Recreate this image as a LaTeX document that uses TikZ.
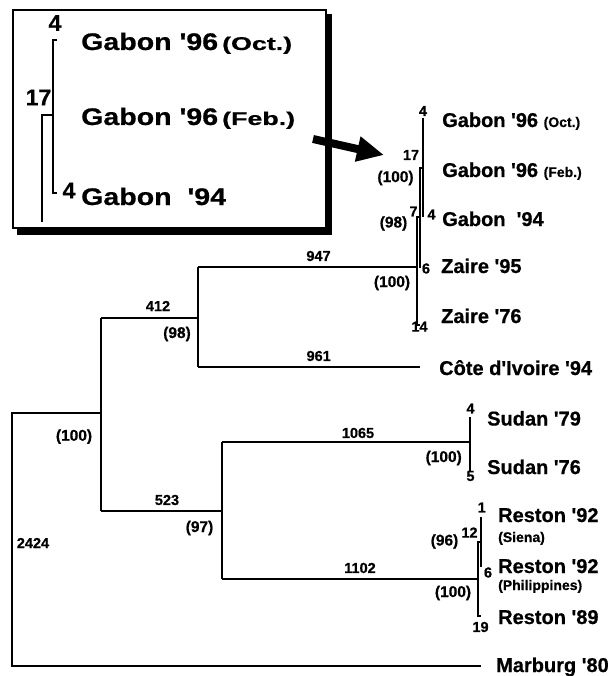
\documentclass[tikz,border=0pt]{standalone}
\usepackage{fontspec}
\setmainfont{Liberation Sans}[BoldFeatures={FakeBold=0.6}]
\usepackage{graphicx}
\usetikzlibrary{arrows.meta}
\newcommand\ap{\textquotesingle}
\newcommand\tlab{\fontsize{20}{22}\selectfont\bfseries}
\newcommand\tsub{\fontsize{14}{16}\selectfont\bfseries}
\newcommand\tnum{\fontsize{14.5}{16}\selectfont\bfseries}
\newcommand\tboot{\fontsize{15.5}{17}\selectfont\bfseries}
\newcommand\tinum{\fontsize{23}{25}\selectfont\bfseries}
\newcommand\ibig[1]{{\fontsize{24}{26}\selectfont\bfseries\scalebox{1.19}[1]{#1}}}
\newcommand\ismall[1]{{\fontsize{18.5}{20}\selectfont\bfseries\scalebox{1.45}[1]{#1}}}
\tikzset{
  lbl/.style={anchor=base west, inner sep=0pt, font=\tlab},
  sublbl/.style={anchor=base west, inner sep=0pt, font=\tsub},
  ilbl/.style={anchor=base west, inner sep=0pt},
  num/.style={inner sep=0pt, font=\tnum},
  boot/.style={inner sep=0pt, font=\tboot},
  inum/.style={inner sep=0pt, font=\tinum},
  br/.style={line width=2pt},
  fine/.style={line width=1.2pt},
  mid/.style={line width=1.6pt}
}
\begin{document}
\begin{tikzpicture}[x=1pt,y=-1pt]
\useasboundingbox (0,0) rectangle (613,676);
% ---------- inset box ----------
\draw[line width=1.5pt] (13,10) rectangle (326,228);
\fill (326,14) rectangle (332,235);
\fill (17,228) rectangle (332,235);
% inset tree
\coordinate (ia) at (57,40);
\coordinate (ib) at (53,40);
\coordinate (ic) at (53,193);
\coordinate (id) at (57,193);
\coordinate (ie) at (53,115);
\coordinate (if) at (41.7,115);
\coordinate (ig) at (41.7,222);
\draw[br] (ia) -- (ib) -- (ic) -- (id);
\draw[br] (ie) -- (if) -- (ig);
\node[inum] (i4a) at (55,23) {4};
\node[inum] (i17) at (38.5,97.5) {17};
\node[inum] (i4b) at (69,190.5) {4};
\node[ilbl] (it1) at (81,50) {\ibig{Gabon \ap96}\hspace{4pt}\ismall{(Oct.)}};
\node[ilbl] (it2) at (81,125) {\ibig{Gabon \ap96}\hspace{4pt}\ismall{(Feb.)}};
\node[ilbl] (it3) at (81,205) {\ibig{Gabon\ \ \ap94}};
% ---------- arrow ----------
\coordinate (arA) at (313,139);
\coordinate (arB) at (384,155);
\draw[line width=8pt, -{Triangle[length=27pt,width=24pt]}] (arA) -- (arB);
% ---------- main tree ----------
\coordinate (r) at (12,413);
\coordinate (rb) at (12,666);
\coordinate (mtip) at (481,666);
\coordinate (a) at (101,413);
\coordinate (atop) at (101,318);
\coordinate (abot) at (101,511);
\coordinate (b) at (198,318);
\coordinate (btop) at (198,267);
\coordinate (bbot) at (198,367);
\coordinate (zA) at (417,267);
\coordinate (cote) at (420,367);
\coordinate (c) at (222,511);
\coordinate (ctop) at (222,442);
\coordinate (cbot) at (222,579);
\coordinate (sud) at (470,442);
\coordinate (s79) at (470,417);
\coordinate (s76) at (470,472);
\coordinate (res) at (478,579);
\draw[br] (mtip) -- (rb) -- (r) -- (a);
\draw[br] (atop) -- (abot);
\draw[br] (atop) -- (b);
\draw[br] (btop) -- (bbot);
\draw[br] (btop) -- (zA);
\draw[br] (bbot) -- (cote);
\draw[br] (abot) -- (c);
\draw[br] (ctop) -- (cbot);
\draw[br] (ctop) -- (sud);
\draw[br] (s79) -- (s76);
\draw[br] (cbot) -- (res);
% Zaire / Gabon cluster
\coordinate (g1t) at (423,118);
\coordinate (g1b) at (423,217);
\coordinate (g2a) at (420,168);
\coordinate (g2b) at (423,168);
\coordinate (g2c) at (420,268);
\coordinate (g3a) at (417,217);
\coordinate (g3b) at (420,217);
\coordinate (g3c) at (417,325);
\coordinate (g3d) at (420,325);
\draw[fine] (g1t) -- (g1b);
\draw[fine] (g2b) -- (g2a) -- (g2c);
\draw[fine] (g3b) -- (g3a) -- (g3c) -- (g3d);
% Reston cluster
\coordinate (rs1) at (478,542);
\coordinate (rs2) at (478,616);
\coordinate (rs3) at (481,616);
\coordinate (rs4) at (481,542);
\coordinate (rs5) at (481,517);
\coordinate (rs6) at (481,567);
\draw[mid] (rs3) -- (rs2) -- (rs1) -- (rs4);
\draw[mid] (rs5) -- (rs6);
% ---------- taxon labels ----------
\node[lbl] (lg1) at (442,127) {Gabon \ap96 {\tsub (Oct.)}};
\node[lbl] (lg2) at (442,177) {Gabon \ap96 {\tsub (Feb.)}};
\node[lbl] (lg3) at (442,226) {Gabon\ \ \ap94};
\node[lbl] (lz95) at (441,273) {Zaire \ap95};
\node[lbl] (lz76) at (441,323) {Zaire \ap76};
\node[lbl] (lci) at (439,375) {Côte d\ap Ivoire \ap94};
\node[lbl] (ls79) at (487,425.5) {Sudan \ap79};
\node[lbl] (ls76) at (487,474) {Sudan \ap76};
\node[lbl] (lr1) at (498,522) {Reston \ap92};
\node[sublbl] (lr1s) at (498,542) {(Siena)};
\node[lbl] (lr2) at (498,573) {Reston \ap92};
\node[sublbl] (lr2s) at (498,590) {(Philippines)};
\node[lbl] (lr3) at (498,624) {Reston \ap89};
\node[lbl] (lmar) at (496,672) {Marburg \ap80};
% ---------- branch numbers ----------
\node[num] (n947) at (318.5,256) {947};
\node[num] (n412) at (158,306) {412};
\node[boot] (b98a) at (177,334) {(98)};
\node[num] (n961) at (318.7,356) {961};
\node[boot] (b100r) at (74,436.7) {(100)};
\node[num] (n523) at (167,500) {523};
\node[boot] (b97) at (199.5,528) {(97)};
\node[num] (n2424) at (33,543) {2424};
\node[num] (n1065) at (358,433) {1065};
\node[num] (n1102) at (360,568) {1102};
% cluster numbers
\node[num] (c4a) at (423,111) {4};
\node[num] (c17) at (411,155) {17};
\node[boot] (c100a) at (395.5,178) {(100)};
\node[num] (c7) at (413.5,211.5) {7};
\node[boot] (c98) at (393.5,223.5) {(98)};
\node[num] (c4b) at (431.5,214.5) {4};
\node[num] (c6) at (426,268.5) {6};
\node[boot] (c100b) at (392,283) {(100)};
\node[num] (c14) at (419.5,326.7) {14};
\node[num] (s4) at (470.5,408.5) {4};
\node[num] (s5) at (470.5,476) {5};
\node[boot] (s100) at (443.7,458) {(100)};
\node[num] (t1) at (481.7,507.5) {1};
\node[num] (t12) at (469.5,532.5) {12};
\node[boot] (t96) at (444.5,541.5) {(96)};
\node[num] (t6) at (488,572.5) {6};
\node[boot] (t100) at (453,593) {(100)};
\node[num] (t19) at (480.5,627) {19};
\end{tikzpicture}
\end{document}
